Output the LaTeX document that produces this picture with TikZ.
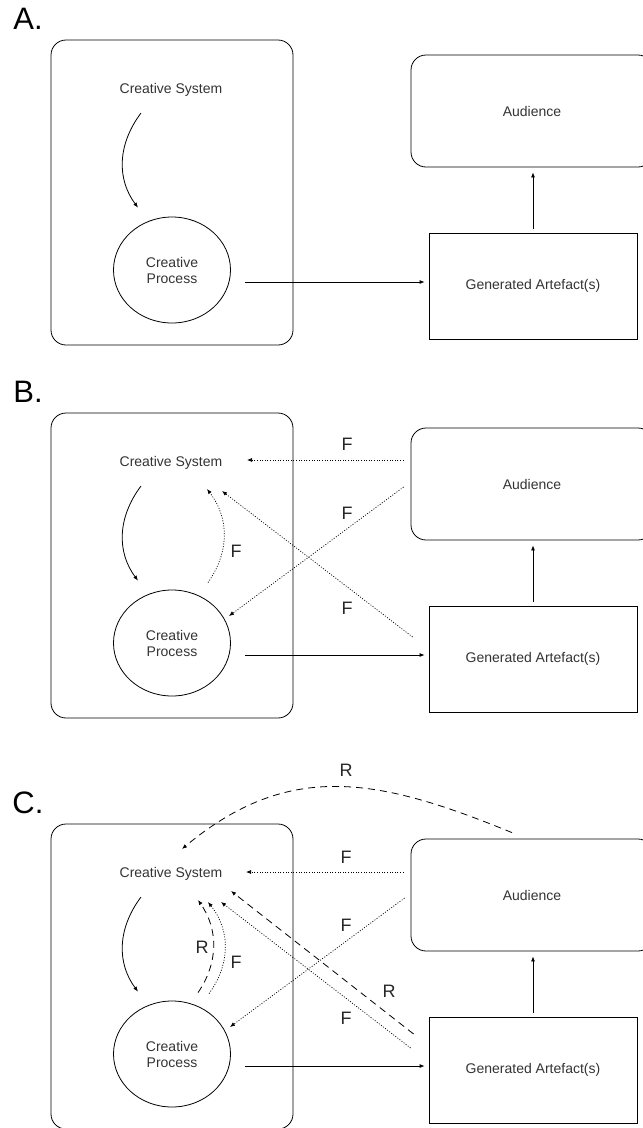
\documentclass[tikz,border=0pt]{standalone}
\usepackage{fontspec}
\setmainfont{Liberation Sans}
\usetikzlibrary{arrows.meta,shapes.geometric}
\tikzset{
  txt/.style={font=\fontsize{14}{16}\selectfont, text=black!80},
  flbl/.style={font=\fontsize{18}{20}\selectfont, text=black!85, inner sep=0pt},
  plbl/.style={font=\fontsize{31}{34}\selectfont, inner sep=0pt},
  sysbox/.style={draw, rounded corners=15pt, minimum width=242pt, minimum height=305pt, inner sep=0pt, line width=0.8pt},
  audbox/.style={draw, rounded corners=15pt, minimum width=242pt, minimum height=112pt, inner sep=0pt, line width=0.8pt, txt},
  genbox/.style={draw, minimum width=208pt, minimum height=106pt, inner sep=0pt, line width=0.8pt, txt},
  cpell/.style={draw, ellipse, minimum width=117pt, minimum height=106pt, inner sep=0pt, line width=0.8pt, txt, align=center},
  arr/.style={-{Latex[length=5pt,width=4pt]}, line width=0.8pt},
  fb/.style={arr, dash pattern=on 1pt off 1.6pt, line width=0.7pt},
  rd/.style={arr, dash pattern=on 7pt off 5pt},
}
\newcommand\basepanel[3]{%
 \begin{scope}[yshift=-#2pt]
  \node[plbl] (#1let) at (28,18.5) {#3.};
  \node[sysbox] (#1sys) at (172,192.5) {};
  \node[txt, anchor=base] (#1cs) at (171,93) {Creative System};
  \node[cpell] (#1cp) at (172,270) {Creative\\Process};
  \node[genbox] (#1gen) at (533,286) {Generated Artefact(s)};
  \node[audbox] (#1aud) at (532,111) {Audience};
  \draw[arr] ([shift={(-30,20)}]#1cs.base) .. controls +(-24,32) and +(-21,-28) .. ([shift={(-34,-9)}]#1cp.north);
  \draw[arr] ([shift={(14.5,12)}]#1cp.east) -- ([shift={(-4,-4)}]#1gen.west);
  \draw[arr, shorten <=4pt, shorten >=5pt] (#1gen.north) -- (#1gen.north |- #1aud.south);
 \end{scope}}
\begin{document}
\begin{tikzpicture}[x=1pt,y=-1pt]
\useasboundingbox (0,0) rectangle (643,1128);
\clip (0,0) rectangle (643,1128);
\basepanel{a}{0}{A}
\basepanel{b}{373}{B}
\basepanel{c}{784}{C}
% panel B feedback
\begin{scope}[yshift=-373pt]
  \draw[fb] ([shift={(-7,-24)}]baud.west) -- ([shift={(76,-6)}]bcs.base);
  \draw[fb] ([shift={(-7,3)}]baud.west) -- ([shift={(57,-27)}]bcp.center);
  \draw[fb] ([shift={(-16,-22)}]bgen.west) -- ([shift={(51,25)}]bcs.base);
  \draw[fb] ([shift={(36,-7)}]bcp.north) .. controls +(21,-30) and +(23,30) .. ([shift={(36,23)}]bcs.base);
  \node[flbl] (bf1) at (347,71) {F};
  \node[flbl] (bf2) at (347,140) {F};
  \node[flbl] (bf3) at (347,235) {F};
  \node[flbl] (bf4) at (236,178) {F};
\end{scope}
% panel C feedback and reflection
\begin{scope}[yshift=-784pt]
  \draw[fb] ([shift={(-7,-23)}]caud.west) -- ([shift={(75,-5)}]ccs.base);
  \draw[fb] ([shift={(-6,3)}]caud.west) -- ([shift={(58,-27)}]ccp.center);
  \draw[fb] ([shift={(-18,-22)}]cgen.west) -- ([shift={(50,25)}]ccs.base);
  \draw[rd] ([shift={(-15,-36)}]cgen.west) -- ([shift={(60,14)}]ccs.base);
  \draw[rd] ([shift={(26,-8)}]ccp.north) .. controls +(20,-29) and +(21,30) .. ([shift={(27,23)}]ccs.base);
  \draw[fb] ([shift={(37,-7)}]ccp.north) .. controls +(21,-29) and +(23,29) .. ([shift={(37,25)}]ccs.base);
  \draw[rd] ([shift={(-20,-6)}]caud.north) .. controls +(-132,-54) and +(108,-90) .. ([shift={(11,-28)}]ccs.base);
  \node[flbl] (cr0) at (346,-14) {R};
  \node[flbl] (cf1) at (346,73) {F};
  \node[flbl] (cf2) at (346,141) {F};
  \node[flbl] (cf3) at (346,234) {F};
  \node[flbl] (cr1) at (389,207) {R};
  \node[flbl] (cr2) at (202,163) {R};
  \node[flbl] (cf4) at (236,178) {F};
\end{scope}
\end{tikzpicture}
\end{document}
